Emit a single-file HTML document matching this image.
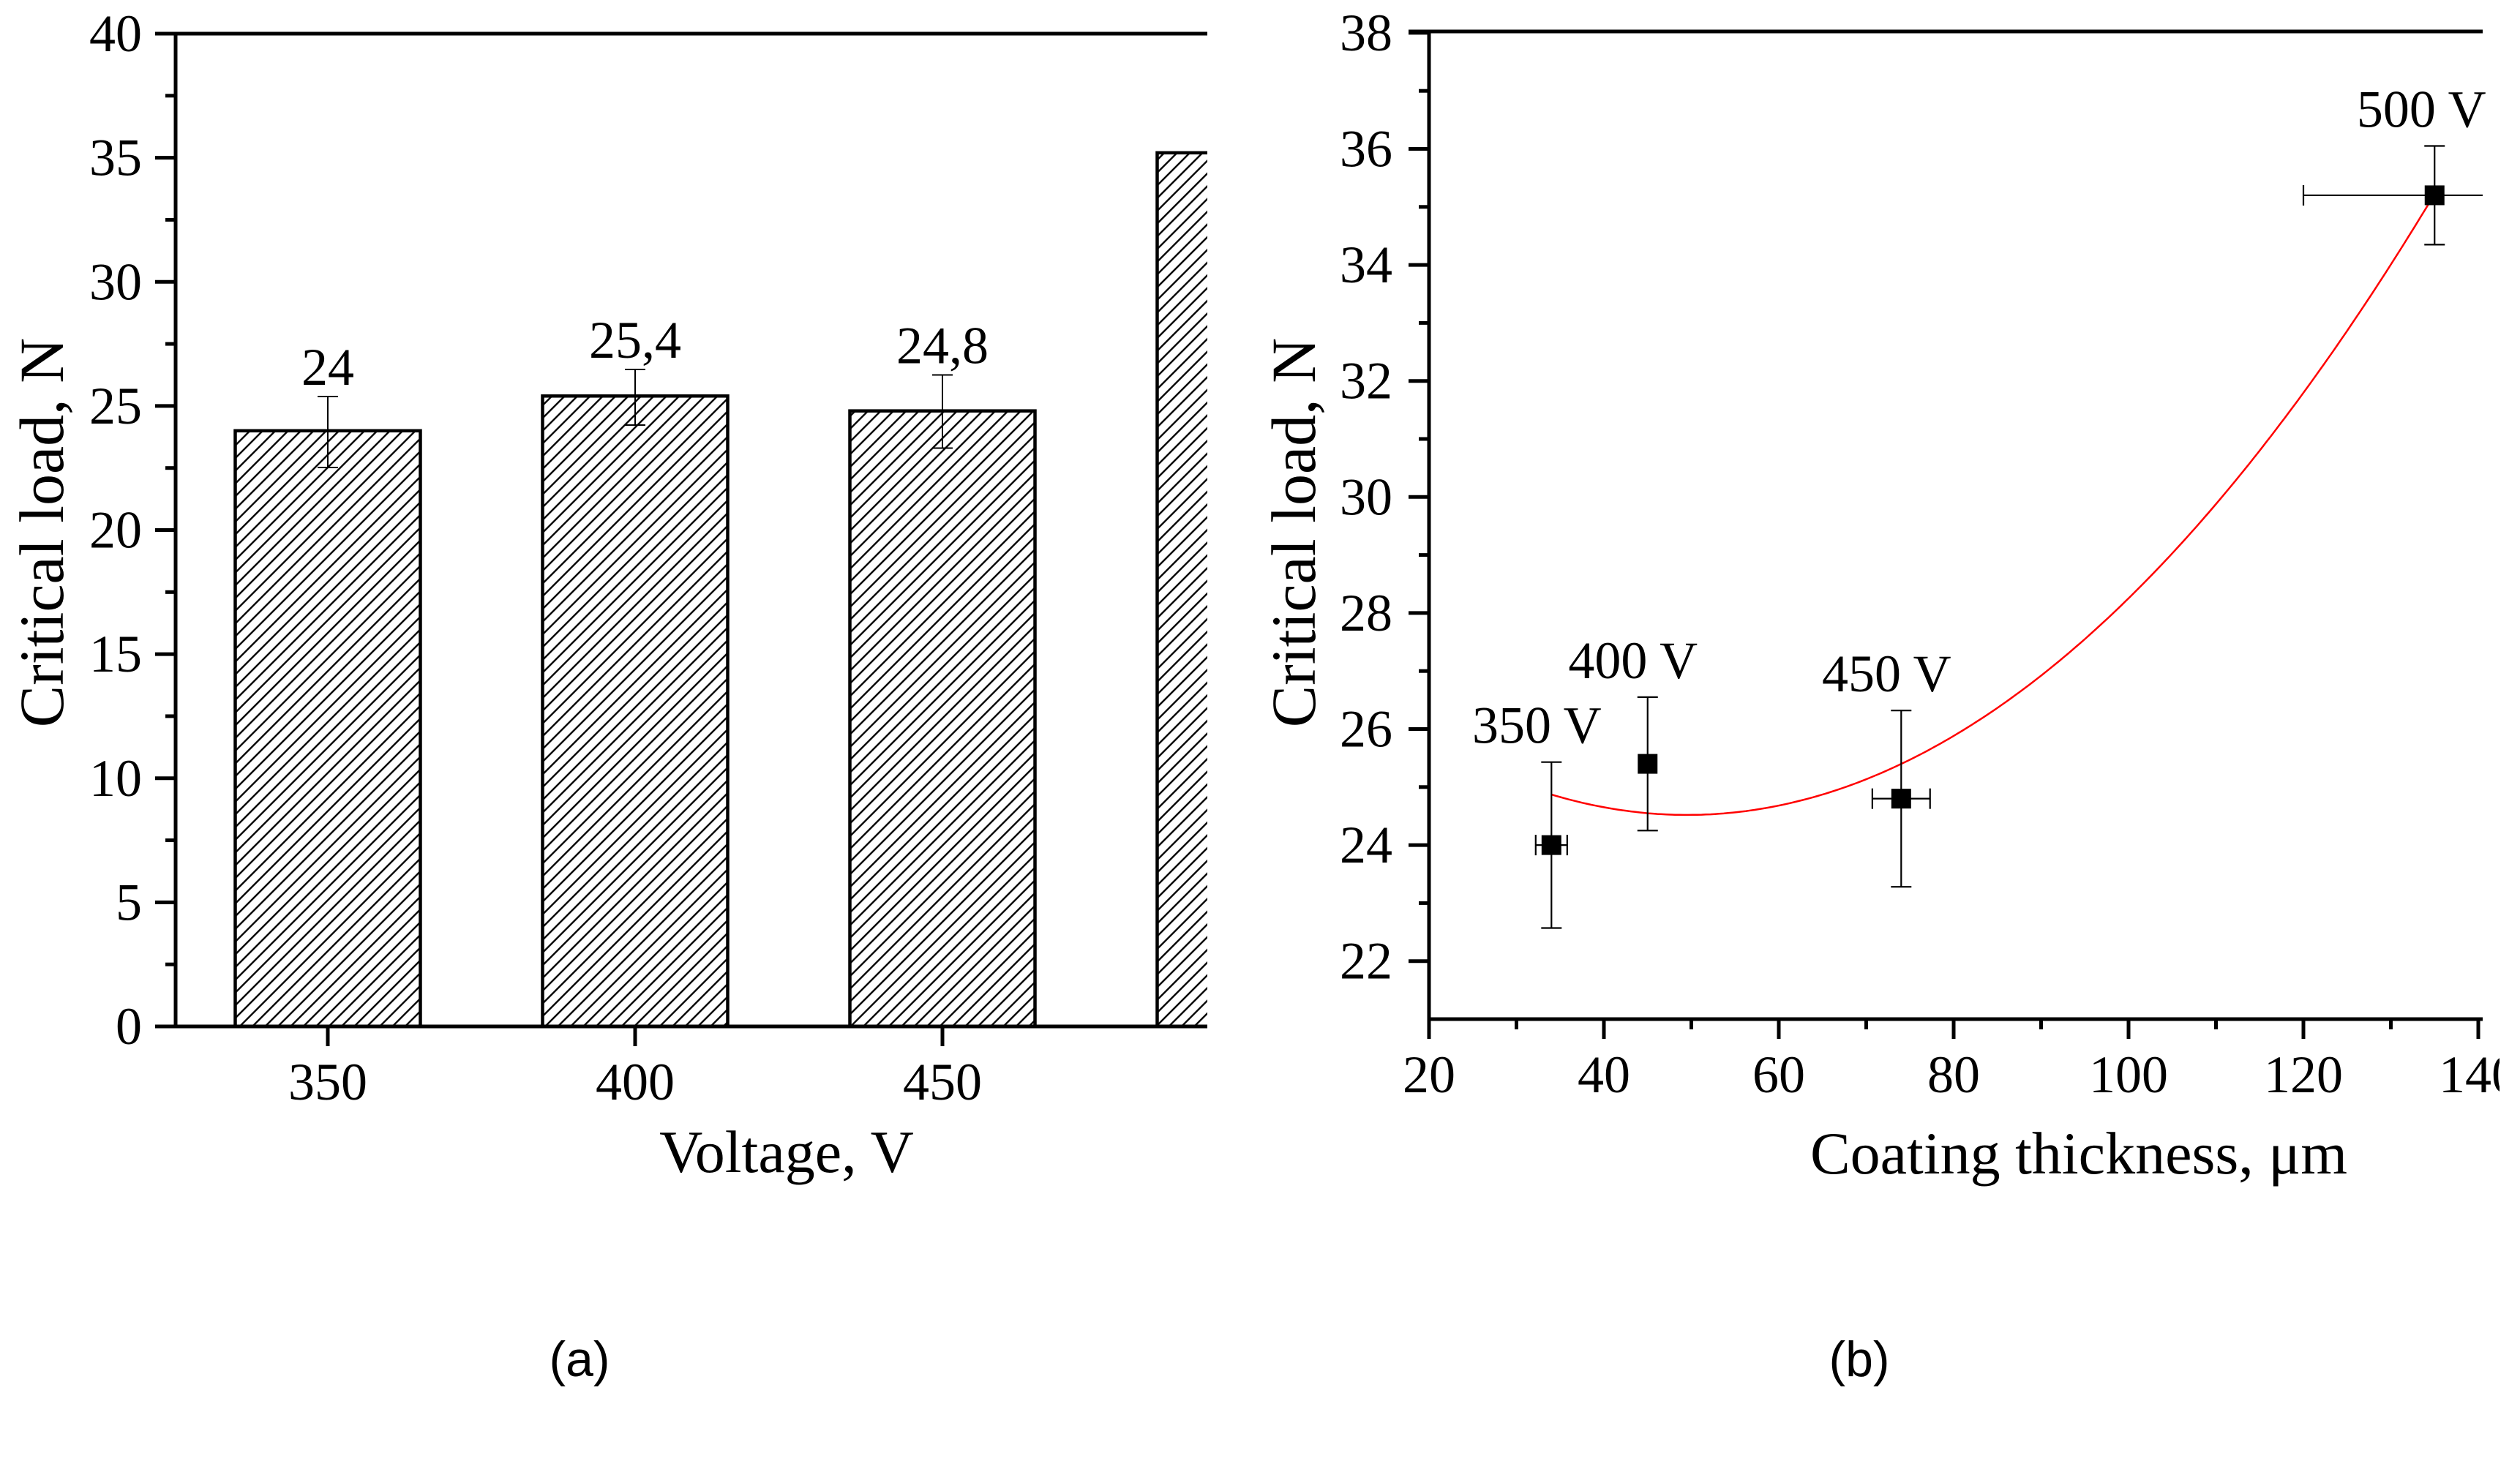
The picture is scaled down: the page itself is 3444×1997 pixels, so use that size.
<!DOCTYPE html>
<html><head><meta charset="utf-8"><style>
html,body{margin:0;padding:0;background:#fff}
svg{display:block}
text{font-family:"Liberation Serif","DejaVu Serif",serif;fill:#000}
</style></head><body>
<svg id="root" width="3444" height="1997" viewBox="0 0 3444 1997" xmlns="http://www.w3.org/2000/svg">
<defs>
<pattern id="hatch" patternUnits="userSpaceOnUse" width="12.3" height="40" patternTransform="rotate(45)">
<line x1="6" y1="0" x2="6" y2="40" stroke="#000" stroke-width="2.4"/>
</pattern>
<clipPath id="clipA"><rect x="0" y="0" width="1650" height="1997"/></clipPath>
<clipPath id="clipB"><rect x="0" y="0" width="3393" height="1997"/></clipPath>
<clipPath id="clipPage"><rect x="0" y="0" width="3416" height="1997"/></clipPath>
</defs>
<g id="chartA"></g>
<g id="chartB"></g>
<text x="792" y="1881" font-size="68" text-anchor="middle" style="font-family:'Liberation Sans',sans-serif">(a)</text>
<text x="2541" y="1881" font-size="68" text-anchor="middle" style="font-family:'Liberation Sans',sans-serif">(b)</text>
</svg>
<script>
// ---- Chart A data ----
const aCategories = ["350","400","450","500"];
const aValues = [24, 25.4, 24.8, 35.2];
const aErrLow = [22.52, 24.23, 23.3, 35.2];
const aErrHigh = [25.38, 26.47, 26.25, 35.2];
const aLabels = ["24","25,4","24,8",""];
const aYTicks = [0,5,10,15,20,25,30,35,40];
// ---- Chart B data ----
const bX = [34, 45, 74, 135];
const bY = [24, 25.4, 24.8, 35.2];
const bYErr = [1.43, 1.15, 1.52, 0.85];
const bXErr = [1.8, 0, 3.3, 15];
const bLabels = ["350 V","400 V","450 V","500 V"];
const bXTicks = [20,40,60,80,100,120,140];
const bYTicks = [22,24,26,28,30,32,34,36,38];
const fitCoeffs = [28.107, -0.14494, 0.001464]; // c0 + c1*x + c2*x^2
const fitRange = [34, 135];

const NS="http://www.w3.org/2000/svg";
function mk(tag, attrs, parent){
  const e=document.createElementNS(NS,tag);
  for(const k in attrs) e.setAttribute(k,attrs[k]);
  parent.appendChild(e); return e;
}
// ===== Chart A =====
(function(){
  const g=document.getElementById('chartA');
  const X0=240, XEND=1650, Y0=1403, YTOP=46;
  const ya=v=>Y0-(v-0)/(40-0)*(Y0-YTOP);
  const first=448, step=420, bw=253;
  const xa=i=>first+i*step;
  const bars=mk('g',{'clip-path':'url(#clipA)'},g);
  
  
  aValues.forEach((v,i)=>{
    const r=mk('rect',{x:xa(i)-bw/2,y:ya(v),width:bw,height:Y0-ya(v),fill:'url(#hatch)',stroke:'#000','stroke-width':4.5},bars);
    
    
    if(aErrHigh[i]!==aErrLow[i]){
      const eg=mk('g',{stroke:'#000','stroke-width':2},bars);
      
      
      mk('line',{x1:xa(i),x2:xa(i),y1:ya(aErrHigh[i]),y2:ya(aErrLow[i])},eg);
      mk('line',{x1:xa(i)-14,x2:xa(i)+14,y1:ya(aErrHigh[i]),y2:ya(aErrHigh[i])},eg);
      mk('line',{x1:xa(i)-14,x2:xa(i)+14,y1:ya(aErrLow[i]),y2:ya(aErrLow[i])},eg);
    }
    if(aLabels[i]){
      const t=mk('text',{x:xa(i),y:ya(aErrHigh[i])-16,'font-size':72,'text-anchor':'middle'},g);
      t.textContent=aLabels[i];
      
      
    }
  });
  const ax=mk('g',{stroke:'#000','stroke-width':5,fill:'none'},g);
  
  
  mk('line',{x1:X0,x2:X0,y1:YTOP-2.5,y2:Y0+2.5},ax);
  mk('line',{x1:X0-28,x2:XEND,y1:Y0,y2:Y0},ax);
  mk('line',{x1:X0-28,x2:XEND,y1:YTOP,y2:YTOP},ax);
  for(let v=0; v<=40; v+=2.5){
    const major = Math.abs(v/5-Math.round(v/5))<1e-6;
    mk('line',{x1:X0-(major?28:14),x2:X0,y1:ya(v),y2:ya(v)},ax);
  }
  aYTicks.forEach(v=>{
    const t=mk('text',{x:194,y:ya(v)+24,'font-size':72,'text-anchor':'end'},g);
    t.textContent=v;
    
    
  });
  aCategories.forEach((c,i)=>{
    if(xa(i)>XEND) return;
    mk('line',{x1:xa(i),x2:xa(i),y1:Y0,y2:Y0+27},ax);
    const t=mk('text',{x:xa(i),y:1503,'font-size':72,'text-anchor':'middle'},g);
    t.textContent=c;
    
    
  });
  const xt=mk('text',{x:1075,y:1602,'font-size':82,'text-anchor':'middle'},g);
  xt.textContent='Voltage, V';
  
  
  const yt=mk('text',{x:0,y:0,'font-size':86,'text-anchor':'middle',transform:'translate(86,728) rotate(-90)'},g);
  yt.textContent='Critical load, N';
  
  
})();
// ===== Chart B =====
(function(){
  const g=document.getElementById('chartB');
  const X0=1953, XEND=3393, Y0=1393, YTOP=43;
  const xMin=20, pxX=11.95, yMin=21, pxY=79.3;
  const xb=v=>X0+(v-xMin)*pxX;
  const yb=v=>Y0-(v-yMin)*pxY;
  const ax=mk('g',{stroke:'#000','stroke-width':5,fill:'none'},g);
  
  
  mk('line',{x1:X0,x2:X0,y1:YTOP-2.5,y2:Y0+27},ax);
  mk('line',{x1:X0-2.5,x2:XEND,y1:Y0,y2:Y0},ax);
  mk('line',{x1:X0-28,x2:XEND,y1:YTOP,y2:YTOP},ax);
  for(let v=22; v<=38; v+=1){
    const major=v%2===0;
    mk('line',{x1:X0-(major?28:14),x2:X0,y1:yb(v),y2:yb(v)},ax);
  }
  for(let v=20; v<=140; v+=10){
    const major=v%20===0;
    mk('line',{x1:xb(v),x2:xb(v),y1:Y0,y2:Y0+(major?27:14)},ax);
  }
  bYTicks.forEach(v=>{
    const t=mk('text',{x:1903,y:yb(v)+24,'font-size':72,'text-anchor':'end'},g);
    t.textContent=v;
    
    
  });
  const xl=mk('g',{'clip-path':'url(#clipPage)'},g);
  bXTicks.forEach(v=>{
    const t=mk('text',{x:xb(v),y:1493,'font-size':72,'text-anchor':'middle'},xl);
    t.textContent=v;
    
    
  });
  const xt=mk('text',{x:2841,y:1604,'font-size':82,'text-anchor':'middle'},g);
  xt.textContent='Coating thickness, μm';
  
  
  const yt=mk('text',{x:0,y:0,'font-size':86,'text-anchor':'middle',transform:'translate(1797,728) rotate(-90)'},g);
  yt.textContent='Critical load, N';
  
  

  const xs=fitRange[0], xe=fitRange[1];
  let d='';
  for(let j=0;j<=200;j++){const x=xs+(xe-xs)*j/200;const y=fitCoeffs[0]+fitCoeffs[1]*x+fitCoeffs[2]*x*x;d+=(j?'L':'M')+xb(x).toFixed(1)+','+yb(y).toFixed(1);}
  const fit=mk('path',{d:d,fill:'none',stroke:'#ff0000','stroke-width':2.5},g);
  
  

  const pts=mk('g',{'clip-path':'url(#clipB)'},g);
  bX.forEach((x,i)=>{
    const eg=mk('g',{stroke:'#000','stroke-width':2.2},pts);
    
    
    const cx=xb(x), cy=yb(bY[i]);
    mk('line',{x1:cx,x2:cx,y1:yb(bY[i]+bYErr[i]),y2:yb(bY[i]-bYErr[i])},eg);
    mk('line',{x1:cx-14,x2:cx+14,y1:yb(bY[i]+bYErr[i]),y2:yb(bY[i]+bYErr[i])},eg);
    mk('line',{x1:cx-14,x2:cx+14,y1:yb(bY[i]-bYErr[i]),y2:yb(bY[i]-bYErr[i])},eg);
    if(bXErr[i]>0){
      mk('line',{x1:xb(x-bXErr[i]),x2:xb(x+bXErr[i]),y1:cy,y2:cy},eg);
      mk('line',{x1:xb(x-bXErr[i]),x2:xb(x-bXErr[i]),y1:cy-14,y2:cy+14},eg);
      mk('line',{x1:xb(x+bXErr[i]),x2:xb(x+bXErr[i]),y1:cy-14,y2:cy+14},eg);
    }
    const m=mk('rect',{x:cx-13.5,y:cy-13.5,width:27,height:27,fill:'#000'},pts);
    
    
    const t=mk('text',{x:i===3?cx-18:cx-20,y:yb(bY[i]+bYErr[i])-26,'font-size':72,'text-anchor':'middle'},g);
    t.textContent=bLabels[i];
    
    
  });
})();
</script>
</body></html>
